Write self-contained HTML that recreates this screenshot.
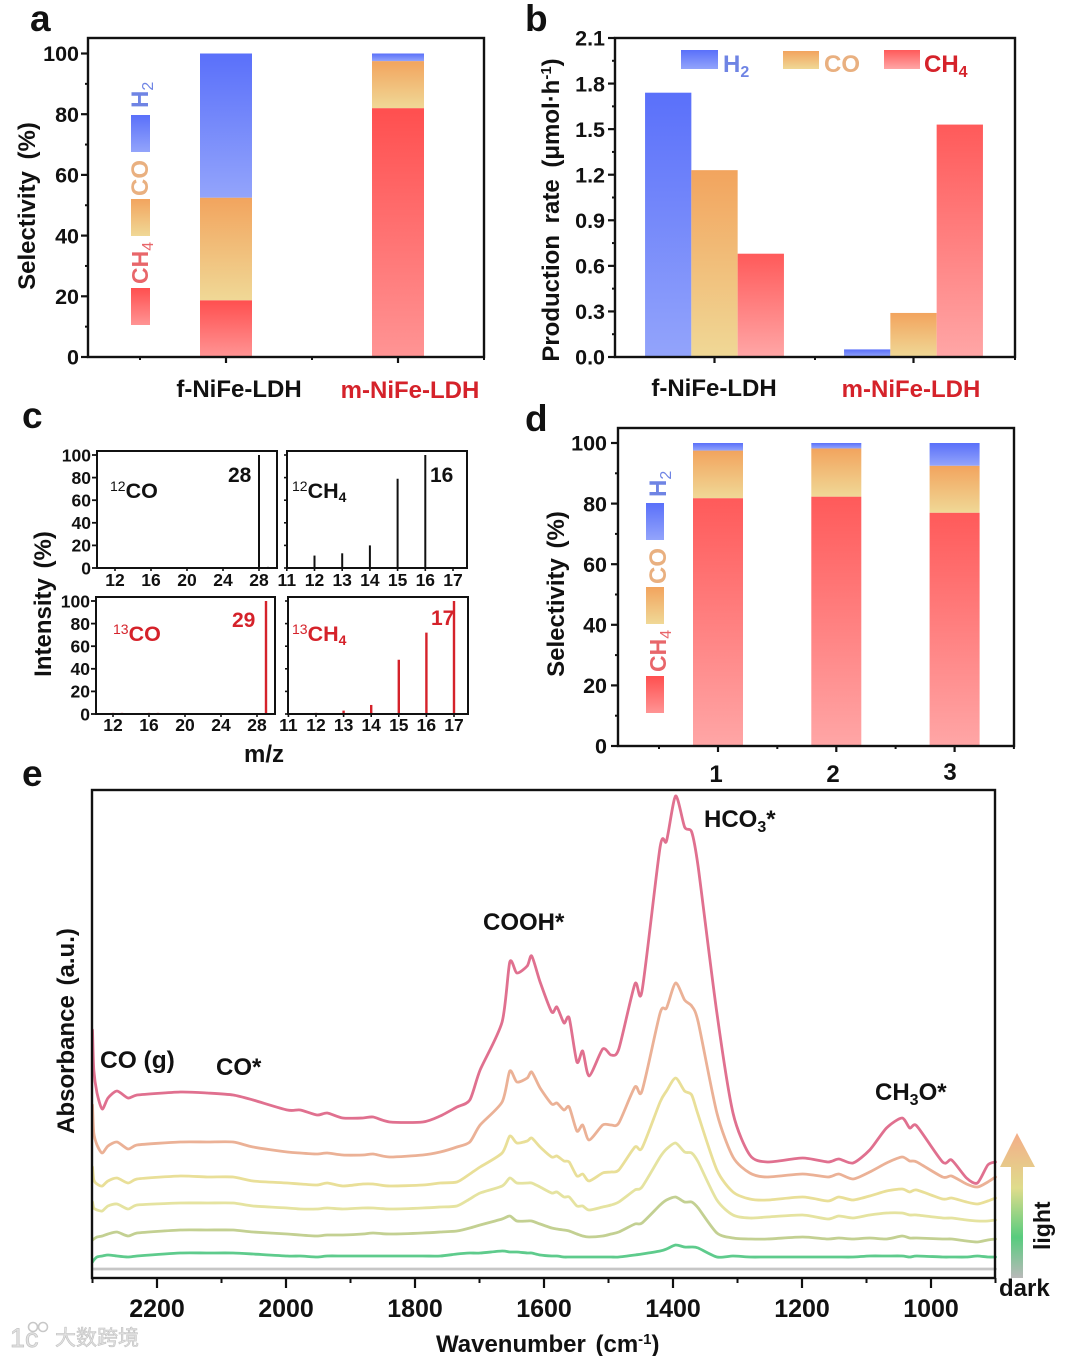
<!DOCTYPE html>
<html lang="en">
<head>
<meta charset="utf-8">
<title>NiFe-LDH photocatalysis figure</title>
<style>
html,body{margin:0;padding:0;background:#fff;}
svg{display:block;}
text{font-family:"Liberation Sans","Noto Sans CJK SC",sans-serif;font-weight:bold;fill:#111;}
.blue{fill:#6f84e4;}
.orange{fill:#e9b080;}
.pinkred{fill:#e8666a;}
.red{fill:#d5222a;}
.thin{font-weight:normal;}
</style>
</head>
<body>
<svg id="figure" xmlns="http://www.w3.org/2000/svg" width="1070" height="1356" viewBox="0 0 1070 1356">
<defs>
<linearGradient id="gH2" x1="0" y1="0" x2="0" y2="1"><stop offset="0" stop-color="#5a70fa"/><stop offset="1" stop-color="#93a4fb"/></linearGradient>
<linearGradient id="gCO" x1="0" y1="0" x2="0" y2="1"><stop offset="0" stop-color="#f2a45e"/><stop offset="1" stop-color="#f0d896"/></linearGradient>
<linearGradient id="gCH4" x1="0" y1="0" x2="0" y2="1"><stop offset="0" stop-color="#ff4f4f"/><stop offset="1" stop-color="#ff9494"/></linearGradient>
<linearGradient id="gCH4Soft" x1="0" y1="0" x2="0" y2="1"><stop offset="0" stop-color="#ff5a5a"/><stop offset="1" stop-color="#ffa6a6"/></linearGradient>
<linearGradient id="gArrow" gradientUnits="userSpaceOnUse" x1="0" y1="1278" x2="0" y2="1133"><stop offset="0" stop-color="#b9b9b9"/><stop offset="0.28" stop-color="#58cc7e"/><stop offset="0.62" stop-color="#dfdc8c"/><stop offset="1" stop-color="#f4ad88"/></linearGradient>
</defs>

<!-- panel letters -->
<text x="30" y="31" font-size="37">a</text>
<text x="525" y="31" font-size="37">b</text>
<text x="22" y="428" font-size="37">c</text>
<text x="525" y="431" font-size="37">d</text>
<text x="22" y="786" font-size="37">e</text>

<!-- panel a -->
<g id="a-bars"></g>
<g id="a-axes"></g>
<rect x="88" y="38" width="396" height="319" fill="none" stroke="#111" stroke-width="2.4"/>
<text transform="translate(35,206) rotate(-90)" text-anchor="middle" font-size="24" word-spacing="5">Selectivity (%)</text>
<text x="239" y="397" text-anchor="middle" font-size="24">f-NiFe-LDH</text>
<text class="red" x="410" y="398" text-anchor="middle" font-size="24">m-NiFe-LDH</text>
<rect x="131" y="115" width="19" height="37" fill="url(#gH2)"/>
<rect x="131" y="199" width="19" height="37" fill="url(#gCO)"/>
<rect x="131" y="288" width="19" height="37" fill="url(#gCH4)"/>
<text class="blue" transform="translate(148,108) rotate(-90)" font-size="24">H<tspan class="thin" dy="5" font-size="16">2</tspan></text>
<text class="orange" transform="translate(148,196) rotate(-90)" font-size="24">CO</text>
<text class="pinkred" transform="translate(148,284) rotate(-90)" font-size="23">CH<tspan class="thin" dy="5" font-size="16">4</tspan></text>

<!-- panel b -->
<g id="b-bars"></g>
<g id="b-axes"></g>
<rect x="615" y="38" width="400" height="319" fill="none" stroke="#111" stroke-width="2.4"/>
<text transform="translate(559,210) rotate(-90)" text-anchor="middle" font-size="24" word-spacing="5">Production rate (μmol·h<tspan dy="-8" font-size="15">-1</tspan><tspan dy="8">)</tspan></text>
<text x="714" y="396" text-anchor="middle" font-size="24">f-NiFe-LDH</text>
<text class="red" x="911" y="397" text-anchor="middle" font-size="24">m-NiFe-LDH</text>
<rect x="681" y="50" width="37" height="19" fill="url(#gH2)"/>
<rect x="783" y="51" width="36" height="18" fill="url(#gCO)"/>
<rect x="884" y="50" width="36" height="19" fill="url(#gCH4Soft)"/>
<text class="blue" x="723" y="72" font-size="24">H<tspan dy="5" font-size="16">2</tspan></text>
<text class="orange" x="824" y="72" font-size="24">CO</text>
<text class="red" x="924" y="72" font-size="24">CH<tspan dy="5" font-size="16">4</tspan></text>

<!-- panel c -->
<g id="c-spikes"></g>
<g id="c-axes"></g>
<rect x="97" y="451" width="180" height="117" fill="none" stroke="#111" stroke-width="2"/>
<rect x="287" y="451" width="180" height="117" fill="none" stroke="#111" stroke-width="2"/>
<rect x="96" y="597" width="179" height="117" fill="none" stroke="#111" stroke-width="2"/>
<rect x="288" y="597" width="180" height="117" fill="none" stroke="#111" stroke-width="2"/>
<text transform="translate(51,604) rotate(-90)" text-anchor="middle" font-size="24" word-spacing="3">Intensity (%)</text>
<text x="264" y="762" text-anchor="middle" font-size="24">m/z</text>
<text x="228" y="482" font-size="21">28</text>
<text x="430" y="482" font-size="21">16</text>
<text class="red" x="232" y="627" font-size="21">29</text>
<text class="red" x="431" y="625" font-size="21">17</text>
<text x="110" y="498" font-size="21.5"><tspan class="thin" dy="-7" font-size="14">12</tspan><tspan dy="7">CO</tspan></text>
<text x="292" y="498" font-size="21.5"><tspan class="thin" dy="-7" font-size="14">12</tspan><tspan dy="7">CH</tspan><tspan dy="4" font-size="14">4</tspan></text>
<text class="red" x="113" y="641" font-size="21.5"><tspan class="thin" dy="-7" font-size="14">13</tspan><tspan dy="7">CO</tspan></text>
<text class="red" x="292" y="641" font-size="21.5"><tspan class="thin" dy="-7" font-size="14">13</tspan><tspan dy="7">CH</tspan><tspan dy="4" font-size="14">4</tspan></text>

<!-- panel d -->
<g id="d-bars"></g>
<g id="d-axes"></g>
<rect x="618" y="428" width="396" height="318" fill="none" stroke="#111" stroke-width="2.4"/>
<text transform="translate(564,594) rotate(-90)" text-anchor="middle" font-size="24" word-spacing="3">Selectivity (%)</text>
<text x="716" y="782" text-anchor="middle" font-size="24">1</text>
<text x="833" y="782" text-anchor="middle" font-size="24">2</text>
<text x="950" y="780" text-anchor="middle" font-size="24">3</text>
<rect x="646" y="503" width="18" height="37" fill="url(#gH2)"/>
<rect x="646" y="587" width="18" height="37" fill="url(#gCO)"/>
<rect x="646" y="676" width="18" height="37" fill="url(#gCH4)"/>
<text class="blue" transform="translate(666,497) rotate(-90)" font-size="24">H<tspan class="thin" dy="5" font-size="16">2</tspan></text>
<text class="orange" transform="translate(666,584) rotate(-90)" font-size="24">CO</text>
<text class="pinkred" transform="translate(666,672) rotate(-90)" font-size="23">CH<tspan class="thin" dy="5" font-size="16">4</tspan></text>

<!-- panel e -->
<g id="e-lines"></g>
<g id="e-axes"></g>
<rect x="92" y="790" width="903" height="488" fill="none" stroke="#111" stroke-width="2.4"/>
<text transform="translate(74,1031) rotate(-90)" text-anchor="middle" font-size="24" word-spacing="3">Absorbance (a.u.)</text>
<text x="436" y="1352" font-size="24" word-spacing="3">Wavenumber (cm<tspan dy="-8" font-size="15">-1</tspan><tspan dy="8">)</tspan></text>
<text x="100" y="1068" font-size="24.5">CO (g)</text>
<text x="216" y="1075" font-size="24">CO*</text>
<text x="483" y="930" font-size="24">COOH*</text>
<text x="704" y="827" font-size="24">HCO<tspan dy="5" font-size="16">3</tspan><tspan dy="-5">*</tspan></text>
<text x="875" y="1100" font-size="24">CH<tspan dy="5" font-size="16">3</tspan><tspan dy="-5">O*</tspan></text>
<polygon points="1011,1278 1023,1278 1023,1167 1035,1167 1017,1133 1000,1167 1011,1167" fill="url(#gArrow)"/>
<text transform="translate(1050,1250) rotate(-90)" font-size="23">light</text>
<text x="999" y="1296" font-size="24">dark</text>

<!-- watermark -->
<g>
<text x="55" y="1345" font-size="21" style="fill:#e2e2e2;stroke:#c2c2c2;stroke-width:.6;font-weight:normal">大数跨境</text>
<text x="10" y="1347" font-size="27" style="fill:#e2e2e2;stroke:#c2c2c2;stroke-width:.7;font-weight:normal">1c</text>
<circle cx="33" cy="1327" r="4.5" fill="none" stroke="#c8c8c8" stroke-width="1.6"/>
<circle cx="43" cy="1327" r="4.5" fill="none" stroke="#c8c8c8" stroke-width="1.6"/>
</g>
</svg>

<script>
// Panel a: selectivity (%)
const aCh4 = [18.7, 82];
const aCo = [33.8, 15.5];
const aH2 = [47.5, 2.5];
// Panel b: production rate
const bH2 = [1.74, 0.05];
const bCo = [1.23, 0.29];
const bCh4 = [0.68, 1.53];
// Panel d: selectivity (%) per cycle
const dCh4 = [81.8, 82.3, 77];
const dCo = [15.7, 15.9, 15.5];
const dH2 = [2.5, 1.8, 7.5];
// Tick labels
const selectivityTicks = [0, 20, 40, 60, 80, 100];
const selectivityMinor = [10, 30, 50, 70, 90];
const rateTicks = [0, 0.3, 0.6, 0.9, 1.2, 1.5, 1.8, 2.1];
const rateMinor = [0.15, 0.45, 0.75, 1.05, 1.35, 1.65, 1.95];
const intensityTicks = [0, 20, 40, 60, 80, 100];
const coMzTicks = [12, 16, 20, 24, 28];
const ch4MzTicks = [11, 12, 13, 14, 15, 16, 17];
const waveTicks = [2200, 2000, 1800, 1600, 1400, 1200, 1000];
const waveMinor = [2300, 2100, 1900, 1700, 1500, 1300, 1100, 900];
// Panel c: mass spectra
const mz12Co = [28, 29];
const int12Co = [100, 1];
const mz12Ch4 = [12, 13, 14, 15, 16];
const int12Ch4 = [11, 13, 20, 79, 100];
const mz13Co = [12, 13, 16, 17, 29];
const int13Co = [1, 1, 1, 1, 100];
const mz13Ch4 = [12, 13, 14, 15, 16, 17];
const int13Ch4 = [1, 3, 8, 48, 72, 100];
// Panel e: infrared spectra (a.u.), top trace first
const wavenumbers = [2300,2298,2293,2285,2276,2262,2245,2231, 2164,2122,2082,2051,1998,1978, 1952,1936,1912,1881,1865,1839, 1788,1761,1735,1715,1699,1665, 1653,1642,1626,1619,1606,1588, 1580,1569,1561,1549,1540,1530, 1509,1496,1484,1459,1448,1420, 1410,1396,1382,1371,1361,1332, 1307,1281,1254,1199,1160,1143, 1121,1095,1069,1045,1033,1022, 982,968,945,928,912,900];
const spectrum1 = [2.48,2.08,1.85,1.69,1.80,1.87,1.80,1.83, 1.86,1.85,1.83,1.78,1.68,1.68, 1.63,1.65,1.60,1.60,1.61,1.56, 1.56,1.62,1.71,1.78,2.08,2.56, 3.16,3.05,3.12,3.22,2.96,2.66, 2.71,2.55,2.60,2.16,2.27,2.02, 2.29,2.23,2.29,2.94,2.87,4.31, 4.37,4.82,4.51,4.46,4.11,2.65, 1.65,1.23,1.16,1.20,1.16,1.19, 1.15,1.28,1.50,1.60,1.50,1.52, 1.16,1.18,1.00,0.95,1.13,1.16];
const spectrum2 = [1.73,1.45,1.33,1.25,1.32,1.36,1.29,1.33, 1.36,1.36,1.36,1.31,1.26,1.25, 1.24,1.25,1.23,1.23,1.24,1.21, 1.23,1.26,1.31,1.36,1.53,1.76, 2.07,1.96,2.00,2.06,1.90,1.74, 1.75,1.68,1.71,1.47,1.53,1.38, 1.53,1.53,1.55,1.91,1.87,2.65, 2.70,2.95,2.78,2.72,2.56,1.65, 1.21,1.05,1.01,1.04,1.01,1.04, 0.99,1.06,1.15,1.21,1.17,1.16, 1.01,1.02,0.94,0.91,0.96,1.01];
const spectrum3 = [1.11,0.98,0.94,0.92,0.97,1.00,0.95,0.99, 1.02,1.01,1.01,0.97,0.95,0.94, 0.93,0.95,0.92,0.94,0.94,0.92, 0.93,0.95,0.96,1.04,1.11,1.25, 1.42,1.35,1.37,1.40,1.31,1.21, 1.22,1.17,1.16,1.02,1.04,0.97, 1.05,1.06,1.08,1.31,1.30,1.76, 1.87,2.00,1.87,1.83,1.63,1.08, 0.86,0.79,0.78,0.81,0.77,0.81, 0.78,0.82,0.87,0.89,0.86,0.88, 0.79,0.80,0.76,0.74,0.77,0.80];
const spectrum4 = [0.76,0.70,0.68,0.67,0.72,0.74,0.69,0.73, 0.75,0.75,0.75,0.72,0.70,0.69, 0.69,0.70,0.69,0.70,0.70,0.69, 0.70,0.71,0.72,0.79,0.85,0.92, 1.00,0.95,0.95,0.95,0.91,0.85, 0.86,0.81,0.81,0.72,0.72,0.68, 0.71,0.73,0.76,0.88,0.91,1.21, 1.29,1.35,1.26,1.25,1.16,0.78, 0.63,0.60,0.61,0.63,0.59,0.62, 0.60,0.63,0.65,0.65,0.63,0.63, 0.60,0.60,0.58,0.57,0.57,0.58];
const spectrum5 = [0.38,0.39,0.41,0.42,0.44,0.46,0.42,0.45, 0.48,0.48,0.48,0.46,0.44,0.43, 0.42,0.43,0.43,0.44,0.45,0.44, 0.45,0.46,0.47,0.50,0.53,0.59, 0.62,0.57,0.57,0.57,0.54,0.50, 0.49,0.48,0.47,0.44,0.42,0.41, 0.42,0.44,0.46,0.54,0.55,0.73, 0.78,0.81,0.76,0.76,0.70,0.45, 0.40,0.39,0.39,0.41,0.39,0.40, 0.39,0.40,0.39,0.42,0.40,0.40, 0.39,0.39,0.37,0.36,0.38,0.39];
const spectrum6 = [0.16,0.18,0.21,0.22,0.23,0.22,0.21,0.22, 0.25,0.25,0.25,0.24,0.22,0.22, 0.21,0.22,0.22,0.22,0.22,0.22, 0.22,0.22,0.24,0.25,0.25,0.27, 0.26,0.26,0.25,0.25,0.23,0.22, 0.22,0.21,0.21,0.21,0.21,0.21, 0.21,0.21,0.21,0.23,0.24,0.27, 0.29,0.33,0.31,0.31,0.30,0.21, 0.22,0.21,0.21,0.21,0.21,0.21, 0.21,0.22,0.22,0.22,0.21,0.22, 0.21,0.21,0.21,0.22,0.21,0.21];
const baselineWaves = [2300, 900];
const baselineValues = [0.09, 0.09];

const NS = 'http://www.w3.org/2000/svg';
function make(tag, parentId, attrs, text) {
  const el = document.createElementNS(NS, tag);
  for (const k in attrs) el.setAttribute(k, attrs[k]);
  if (text !== undefined) el.textContent = text;
  document.getElementById(parentId).appendChild(el);
  return el;
}
function linear(d0, d1, r0, r1) {
  return function (v) { return r0 + (v - d0) * (r1 - r0) / (d1 - d0); };
}
function yTicks(parentId, axisX, scale, values, len, labelX, size, stroke, showLabels) {
  values.forEach(function (v) {
    const t = make('line', parentId, { x1: axisX - len, x2: axisX, y1: scale(v), y2: scale(v), stroke: '#111', 'stroke-width': stroke });
    
    
    if (showLabels) {
      const lab = make('text', parentId, { x: labelX, y: scale(v) + size * 0.36, 'text-anchor': 'end', 'font-size': size }, parentId === 'b-axes' ? v.toFixed(1) : String(v));
      
      
    }
  });
}
function xTicks(parentId, axisY, scale, values, len, baseline, size, stroke, showLabels) {
  values.forEach(function (v) {
    const t = make('line', parentId, { x1: scale(v), x2: scale(v), y1: axisY, y2: axisY + len, stroke: '#111', 'stroke-width': stroke });
    
    
    if (showLabels) {
      const lab = make('text', parentId, { x: scale(v), y: baseline, 'text-anchor': 'middle', 'font-size': size }, String(v));
      
      
    }
  });
}
function bar(parentId, x, w, yTop, yBottom, fill) {
  const r = make('rect', parentId, { x: x, y: yTop, width: w, height: yBottom - yTop, fill: fill });
  
  
}
function stacked(parentId, center, width, scale, ch4, co, h2, ch4Fill) {
  ch4.forEach(function (v, i) {
    const c = center(i);
    const x = c - width / 2;
    bar(parentId, x, width, scale(v), scale(0), ch4Fill);
    bar(parentId, x, width, scale(v + co[i]), scale(v), 'url(#gCO)');
    bar(parentId, x, width, scale(v + co[i] + h2[i]), scale(v + co[i]), 'url(#gH2)');
  });
}

// Panel a
const aY = linear(0, 100, 357, 53.5);
const aX = function (i) { return 226 + 172 * i; };
stacked('a-bars', aX, 52, aY, aCh4, aCo, aH2, 'url(#gCH4)');
yTicks('a-axes', 88, aY, selectivityTicks, 7, 79, 21.5, 2.2, true);
yTicks('a-axes', 88, aY, selectivityMinor, 3, 0, 0, 2, false);
xTicks('a-axes', 357, aX, [0, 1], 6, 0, 0, 2.2, false);
xTicks('a-axes', 357, function (i) { return 140 + 172 * i; }, [0, 1, 2], 3, 0, 0, 2, false);

// Panel b
const bY = linear(0, 2.1, 357, 38);
const bGroup = function (i) { return 714.5 + 199 * i; };
const bWidth = 46.3;
bH2.forEach(function (v, i) { bar('b-bars', bGroup(i) - 1.5 * bWidth, bWidth, bY(v), bY(0), 'url(#gH2)'); });
bCo.forEach(function (v, i) { bar('b-bars', bGroup(i) - 0.5 * bWidth, bWidth, bY(v), bY(0), 'url(#gCO)'); });
bCh4.forEach(function (v, i) { bar('b-bars', bGroup(i) + 0.5 * bWidth, bWidth, bY(v), bY(0), 'url(#gCH4Soft)'); });
yTicks('b-axes', 615, bY, rateTicks, 7, 605, 21.5, 2.2, true);
yTicks('b-axes', 615, bY, rateMinor, 3, 0, 0, 2, false);
xTicks('b-axes', 357, bGroup, [0, 1], 6, 0, 0, 2.2, false);
xTicks('b-axes', 357, function (i) { return 815 + 200 * i; }, [0, 1], 3, 0, 0, 2, false);

// Panel c
const cYTop = linear(0, 100, 568, 455);
const cYBottom = linear(0, 100, 714, 601);
const cXTL = linear(12, 28, 115, 259);
const cXTR = linear(12, 17, 314.5, 453);
const cXBL = linear(12, 28, 113, 257);
const cXBR = linear(12, 17, 316, 454);
function spikes(xs, ys, xScale, yScale, color, width) {
  xs.forEach(function (m, i) {
    const l = make('line', 'c-spikes', { x1: xScale(m), x2: xScale(m), y1: yScale(0), y2: yScale(ys[i]), stroke: color, 'stroke-width': width });
    
    
  });
}
spikes(mz12Co, int12Co, cXTL, cYTop, '#111', 2);
spikes(mz12Ch4, int12Ch4, cXTR, cYTop, '#111', 2);
spikes(mz13Co, int13Co, cXBL, cYBottom, '#d5222a', 2.4);
spikes(mz13Ch4, int13Ch4, cXBR, cYBottom, '#d5222a', 2.4);
yTicks('c-axes', 97, cYTop, intensityTicks, 5, 91, 17.5, 1.8, true);
yTicks('c-axes', 287, cYTop, intensityTicks, 3, 0, 0, 1.6, false);
yTicks('c-axes', 96, cYBottom, intensityTicks, 5, 90, 17.5, 1.8, true);
yTicks('c-axes', 288, cYBottom, intensityTicks, 3, 0, 0, 1.6, false);
xTicks('c-axes', 568, cXTL, coMzTicks, 3, 586, 17.5, 1.6, true);
xTicks('c-axes', 568, cXTR, ch4MzTicks, 3, 586, 17.5, 1.6, true);
xTicks('c-axes', 714, cXBL, coMzTicks, 3, 731, 17.5, 1.6, true);
xTicks('c-axes', 714, cXBR, ch4MzTicks, 3, 731, 17.5, 1.6, true);

// Panel d
const dY = linear(0, 100, 746, 443);
const dX = function (i) { return 718 + 118.3 * i; };
stacked('d-bars', dX, 50, dY, dCh4, dCo, dH2, 'url(#gCH4Soft)');
yTicks('d-axes', 618, dY, selectivityTicks, 7, 607, 21.5, 2.2, true);
yTicks('d-axes', 618, dY, selectivityMinor, 3, 0, 0, 2, false);
xTicks('d-axes', 746, dX, [0, 1, 2], 6, 0, 0, 2.2, false);
xTicks('d-axes', 746, function (i) { return 659 + 118.3 * i; }, [0, 1, 2, 3], 3, 0, 0, 2, false);

// Panel e
const eX = linear(2200, 1000, 157, 931);
const eY = linear(0, 5, 1278, 778);
function spectrum(waves, values, color) {
  const px = values.map(function (v, i) { return [eX(waves[i]), eY(v)]; });
  let d = 'M' + px[0][0].toFixed(1) + ' ' + px[0][1].toFixed(1);
  for (let i = 0; i < px.length - 1; i++) {
    const p0 = px[Math.max(i - 1, 0)], p1 = px[i], p2 = px[i + 1], p3 = px[Math.min(i + 2, px.length - 1)];
    const k = 1 / 8;
    const dx = p2[0] - p1[0];
    const c1x = p1[0] + Math.min((p2[0] - p0[0]) * k, dx / 2);
    const c2x = p2[0] - Math.min((p3[0] - p1[0]) * k, dx / 2);
    const c1y = p1[1] + (p2[1] - p0[1]) * k;
    const c2y = p2[1] - (p3[1] - p1[1]) * k;
    d += ' C' + c1x.toFixed(1) + ' ' + c1y.toFixed(1) + ' ' + c2x.toFixed(1) + ' ' + c2y.toFixed(1) + ' ' + p2[0].toFixed(1) + ' ' + p2[1].toFixed(1);
  }
  const p = make('path', 'e-lines', { d: d, fill: 'none', stroke: color, 'stroke-width': 2.8, 'stroke-linejoin': 'round', 'stroke-linecap': 'round' });
  
  
}
spectrum(baselineWaves, baselineValues, '#c6c6c6');
spectrum(wavenumbers, spectrum6, '#5ecb8c');
spectrum(wavenumbers, spectrum5, '#c3d092');
spectrum(wavenumbers, spectrum4, '#e5e3a0');
spectrum(wavenumbers, spectrum3, '#e9df98');
spectrum(wavenumbers, spectrum2, '#ebb196');
spectrum(wavenumbers, spectrum1, '#e0708f');
xTicks('e-axes', 1278, eX, waveTicks, 10, 1317, 25, 2.2, true);
xTicks('e-axes', 1278, eX, waveMinor, 5, 0, 0, 2, false);
</script>
</body>
</html>
